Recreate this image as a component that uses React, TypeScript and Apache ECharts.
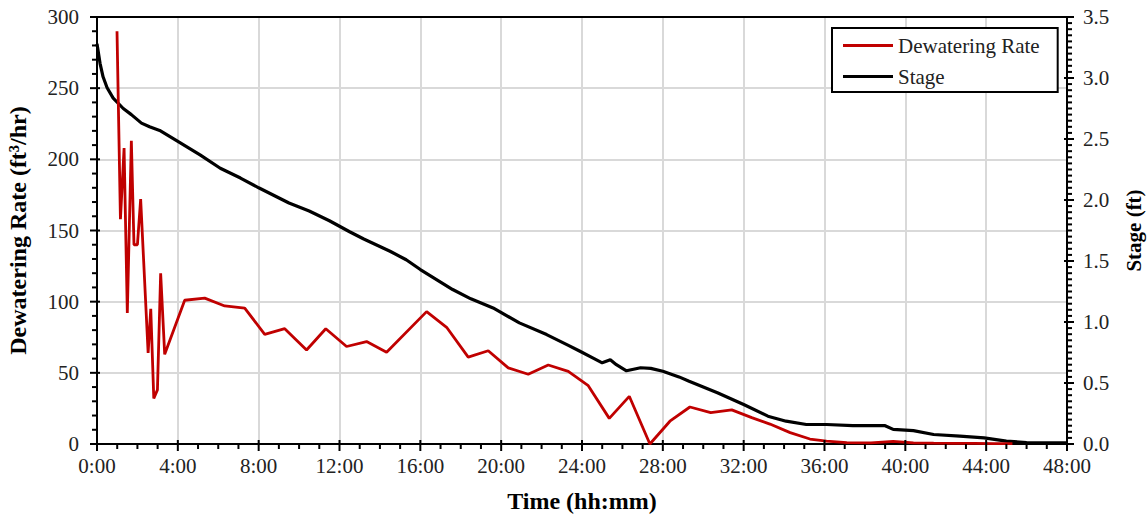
import React, { useEffect, useRef } from "react";
import * as echarts from "echarts";

// Dewatering rate (ft3/hr) vs time (hours)
const rateTime = [0.99, 1.16, 1.34, 1.5, 1.7, 1.83, 2.0, 2.16, 2.53, 2.66, 2.81, 2.99, 3.15, 3.35, 4.34, 5.33, 6.32, 7.31, 8.3, 9.29, 10.37, 11.32, 12.35, 13.34, 14.33, 16.31, 17.3, 18.37, 19.36, 20.35, 21.34, 22.33, 23.32, 24.31, 25.35, 26.34, 27.36, 28.35, 29.34, 30.37, 31.41, 32.4, 33.3, 34.3, 35.28, 36.1, 37.1, 38.3, 39.4, 40.4, 41.4, 42.4, 43.4, 44.4, 45.3];
const rateValue = [290, 158, 208, 92, 213, 140, 140, 172, 64, 95, 32, 38, 120, 63, 101, 102.5, 97, 95.5, 77, 81, 66, 81, 68.5, 72, 64.5, 93, 82, 61, 65.5, 53.5, 49, 55.5, 51, 41, 18, 33.5, 0, 16, 26, 22, 24, 18.5, 14, 8, 3.5, 2, 1, 0.8, 1.8, 0.8, 0.6, 0.5, 0.4, 0.3, 0.2];

// Stage (ft) vs time (hours)
const stageTime = [0, 0.15, 0.3, 0.5, 0.8, 1.3, 1.7, 2.2, 2.6, 3.1, 4.0, 5.1, 6.1, 7.1, 8.0, 9.5, 10.5, 11.5, 12.5, 13.2, 14.5, 15.3, 16.0, 17.6, 18.5, 19.6, 20.9, 22.25, 23.3, 23.9, 24.6, 25.0, 25.4, 25.7, 26.2, 26.9, 27.4, 28.0, 28.8, 29.3, 30.7, 32.0, 33.2, 34.1, 35.1, 36.1, 37.4, 38.4, 39.0, 39.4, 40.4, 41.4, 42.7, 43.9, 45.0, 46.0, 47.0, 48.0];
const stageValue = [3.28, 3.12, 3.01, 2.92, 2.835, 2.75, 2.7, 2.63, 2.6, 2.57, 2.48, 2.37, 2.26, 2.18, 2.1, 1.975, 1.91, 1.83, 1.74, 1.68, 1.58, 1.51, 1.43, 1.266, 1.19, 1.115, 0.993, 0.897, 0.81, 0.76, 0.7, 0.665, 0.69, 0.65, 0.6, 0.625, 0.62, 0.596, 0.55, 0.514, 0.42, 0.324, 0.228, 0.187, 0.16, 0.16, 0.15, 0.15, 0.15, 0.12, 0.11, 0.078, 0.064, 0.05, 0.023, 0.012, 0.01, 0.01];

const seriesNames = ["Dewatering Rate", "Stage"];

// Axis ranges and steps
const X_MAX = 48, X_MAJOR = 4, X_MINOR = 1;
const L_MAX = 300, L_MAJOR = 50, L_MINOR = 10;
const R_MAX = 3.5, R_MAJOR = 0.5, R_MINOR = 0.05;

const FONT = "'Liberation Serif', 'Times New Roman', serif";

function tickList(max: number, major: number, minor: number) {
  const out: number[][] = [];
  const n = Math.round(max / minor);
  const per = Math.round(major / minor);
  for (let i = 0; i <= n; i++) out.push([+(i * minor).toFixed(4), i % per === 0 ? 1 : 0]);
  return out;
}

function axisLine() {
  return { show: true, onZero: false, lineStyle: { color: "#000", width: 2 } };
}

export default function App() {
  const ref = useRef<HTMLDivElement>(null);
  useEffect(() => {
    document.body.style.margin = "0";
    const chart = echarts.init(ref.current!, undefined, { renderer: "svg" });
    const tickStyle = { stroke: "#000", lineWidth: 2 };
    chart.setOption({
      animation: false,
      backgroundColor: "#fff",
      textStyle: { fontFamily: FONT },
      grid: {
        left: 97, right: 81, top: 17, bottom: 70,
        outerBoundsMode: "none",
        containLabel: false,
      },
      legend: {
        orient: "vertical",
        left: 832,
        top: 28,
        itemWidth: 50,
        itemHeight: 3,
        itemGap: 10,
        padding: [7, 18, 5, 11],
        borderColor: "#000",
        borderWidth: 2,
        backgroundColor: "#fff",
        icon: "rect",
        textStyle: { fontFamily: FONT, fontSize: 21, color: "#222" },
        data: seriesNames,
      },
      xAxis: [
        {
          type: "value",
          min: 0,
          max: X_MAX,
          interval: X_MAJOR,
          position: "bottom",
          name: "Time (hh:mm)",
          nameLocation: "middle",
          nameGap: 45,
          nameTextStyle: { fontFamily: FONT, fontSize: 24, fontWeight: "bold", color: "#000" },
          axisLine: axisLine(),
          axisTick: { show: false },
          axisLabel: { fontFamily: FONT, fontSize: 21, color: "#222", margin: 11, formatter: (v: number) => `${v}:00` },
          splitLine: { show: true, lineStyle: { color: "#d9d9d9", width: 2 } },
        },
        {
          type: "value",
          min: 0,
          max: X_MAX,
          interval: X_MAJOR,
          position: "top",
          axisLine: axisLine(),
          axisTick: { show: false },
          axisLabel: { show: false },
          splitLine: { show: false },
        },
      ],
      yAxis: [
        {
          type: "value",
          min: 0,
          max: L_MAX,
          interval: L_MAJOR,
          position: "left",
          name: "Dewatering Rate (ft³/hr)",
          nameLocation: "middle",
          nameGap: 67,
          nameRotate: 90,
          nameTextStyle: { fontFamily: FONT, fontSize: 24, fontWeight: "bold", color: "#000" },
          axisLine: axisLine(),
          axisTick: { show: false },
          axisLabel: { fontFamily: FONT, fontSize: 21, color: "#222", margin: 18 },
          splitLine: { show: true, lineStyle: { color: "#d9d9d9", width: 2 } },
        },
        {
          type: "value",
          min: 0,
          max: R_MAX,
          interval: R_MAJOR,
          position: "right",
          name: "Stage (ft)",
          nameLocation: "middle",
          nameGap: 56,
          nameRotate: 90,
          nameTextStyle: { fontFamily: FONT, fontSize: 21, fontWeight: "bold", color: "#000" },
          axisLine: axisLine(),
          axisTick: { show: false },
          axisLabel: { fontFamily: FONT, fontSize: 21, color: "#222", margin: 16, formatter: (v: number) => v.toFixed(1) },
          splitLine: { show: false },
        },
      ],
      series: [
        {
          name: seriesNames[0],
          type: "line",
          xAxisIndex: 0,
          yAxisIndex: 0,
          showSymbol: false,
          symbol: "none",
          data: rateTime.map((t, i) => [t, rateValue[i]]),
          lineStyle: { color: "#c00000", width: 2.8 },
          itemStyle: { color: "#c00000" },
          z: 3,
        },
        {
          name: seriesNames[1],
          type: "line",
          xAxisIndex: 0,
          yAxisIndex: 1,
          showSymbol: false,
          symbol: "none",
          data: stageTime.map((t, i) => [t, stageValue[i]]),
          lineStyle: { color: "#000", width: 3.2 },
          itemStyle: { color: "#000" },
          z: 2,
        },
        {
          name: "xTicks",
          type: "custom",
          xAxisIndex: 0,
          yAxisIndex: 0,
          silent: true,
          clip: false,
          z: 5,
          data: tickList(X_MAX, X_MAJOR, X_MINOR),
          renderItem: (_p: any, api: any) => {
            const major = api.value(1) === 1;
            const pt = api.coord([api.value(0), 0]);
            return { type: "line", shape: { x1: pt[0], y1: pt[1] - (major ? 4 : 0), x2: pt[0], y2: pt[1] + (major ? 7 : 5) }, style: tickStyle };
          },
        },
        {
          name: "leftTicks",
          type: "custom",
          xAxisIndex: 0,
          yAxisIndex: 0,
          silent: true,
          clip: false,
          z: 5,
          data: tickList(L_MAX, L_MAJOR, L_MINOR).map((d) => [d[0], d[1]]),
          renderItem: (_p: any, api: any) => {
            const major = api.value(1) === 1;
            const pt = api.coord([0, api.value(0)]);
            return { type: "line", shape: { x1: pt[0] - (major ? 7 : 5), y1: pt[1], x2: pt[0] + (major ? 3 : 0), y2: pt[1] }, style: tickStyle };
          },
        },
        {
          name: "rightTicks",
          type: "custom",
          xAxisIndex: 0,
          yAxisIndex: 1,
          silent: true,
          clip: false,
          z: 5,
          data: tickList(R_MAX, R_MAJOR, R_MINOR),
          renderItem: (_p: any, api: any) => {
            const major = api.value(1) === 1;
            const pt = api.coord([X_MAX, api.value(0)]);
            return { type: "line", shape: { x1: pt[0] - (major ? 3 : 0), y1: pt[1], x2: pt[0] + (major ? 7 : 5), y2: pt[1] }, style: tickStyle };
          },
        },
      ],
    });
    return () => chart.dispose();
  }, []);
  return <div ref={ref} style={{ width: 1148, height: 514 }} />;
}
